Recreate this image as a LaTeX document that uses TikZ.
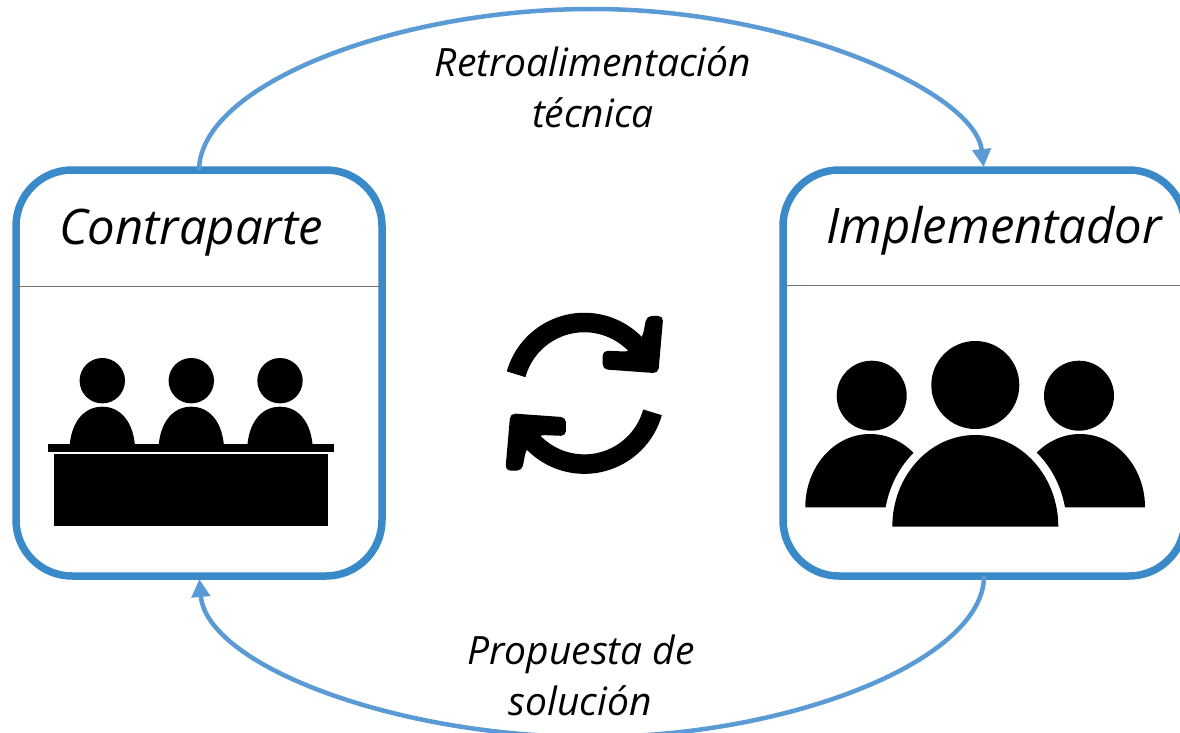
\documentclass[tikz,border=0pt]{standalone}
\usepackage{fontspec}
\setmainfont{Open Sans}
\usetikzlibrary{arrows.meta,calc}
\definecolor{boxblue}{HTML}{3A8AC9}
\definecolor{arcblue}{HTML}{5B9BD5}
\tikzset{
  panel/.style={draw=boxblue,line width=7.5pt,rounded corners=56pt,outer sep=0pt,inner sep=0pt},
  flow/.style={draw=arcblue,line width=4.5pt,shorten >=3pt,-{Triangle[length=18pt,width=18pt]}},
  divider/.style={draw=black!55,line width=0.8pt},
  title/.style={font=\fontsize{49}{56}\selectfont\itshape,inner sep=0pt,anchor=base},
  caption/.style={font=\fontsize{39}{46}\selectfont\itshape,inner sep=0pt,anchor=base},
  ink/.style={fill=black,draw=none}
}
\begin{document}
\begin{tikzpicture}[x=1pt,y=-1pt]
\useasboundingbox (0,0) rectangle (1180,733);
\clip (0,0) rectangle (1180,733);
\fill[white] (0,0) rectangle (1180,733);
% panels
\node[panel,minimum width=366pt,minimum height=406pt] (cp) at (199,373) {};
\node[panel,minimum width=402pt,minimum height=406pt] (im) at (984,373) {};
\draw[divider] (cp.west |- 0,286) -- (cp.east |- 0,286);
\draw[divider] (im.west |- 0,285) -- (im.east |- 0,285);
\node[title] (tcp) at (191,244.5) {Contraparte};
\node[title] (tim) at (994,243) {Implementador};
% flows
\coordinate (topmid) at (592,9);
\coordinate (botmid) at (592,737);
\draw[flow] (cp.north) .. controls (200,85) and (395,9) .. (topmid) .. controls (790,9) and (975,92) .. (im.north);
\draw[flow] (im.south) .. controls (984,660) and (790,737) .. (botmid) .. controls (395,737) and (207,665) .. (cp.south);
\node[caption] (c1) at (593,76.5) {Retroalimentación};
\node[caption] (c2) at (593,127.5) {técnica};
\node[caption] (c3) at (581,664.5) {Propuesta de};
\node[caption] (c4) at (580,715) {solución};
% sync icon
\foreach \r in {0,180}{
\begin{scope}[shift={(584.3,393.3)},rotate=\r]
\draw[line width=19.5pt,black] (-164.4:70.8) arc[start angle=-164.4,end angle=-32,radius=70.8];
\fill[black,rounded corners=5pt,xscale=1/3,yscale=1/3]
 (222,-60) -- (237,-232) -- (187,-232) -- (175,-170) -- (135,-125) -- (55,-128) -- (55,-72) -- cycle;
\end{scope}}
% audience icon
\fill[ink] (47.7,444) rectangle (334,452);
\fill[ink] (54.3,454) rectangle (328,526);
\foreach \x in {102.3,191.3,280}{
  \fill[ink] (\x,380.7) circle[radius=22.7];
  \fill[ink] (\x-32.5,444) .. controls (\x-30,420) and (\x-17,406.7) .. (\x,406.7) .. controls (\x+17,406.7) and (\x+30,420) .. (\x+32.5,444) -- cycle;
}
% team icon
\fill[ink] (805.3,507.3) .. controls (805.3,467) and (834,434) .. (870,434) .. controls (906,434) and (935,467) .. (935,507.3) -- cycle;
\fill[ink] (1015,507.3) .. controls (1015,467) and (1044,434) .. (1080,434) .. controls (1116,434) and (1145,467) .. (1145,507.3) -- cycle;
\fill[white] (884,526.7) arc[start angle=180,end angle=0,x radius=91.3,y radius=-100] -- cycle;
\fill[ink] (892.3,526.7) arc[start angle=180,end angle=0,x radius=83,y radius=-91.7] -- cycle;
\fill[ink] (871.7,395.7) circle[radius=35];
\fill[ink] (1079,395.7) circle[radius=35];
\fill[ink] (975.3,385) circle[radius=44];
\end{tikzpicture}
\end{document}
